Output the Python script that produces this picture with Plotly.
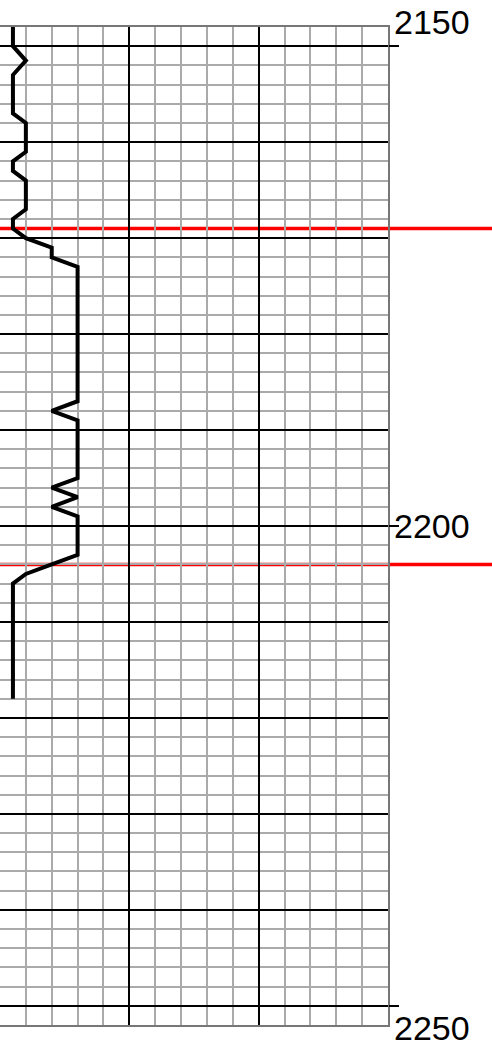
import plotly.graph_objects as go

# Log curve: depth (downward) and curve value (track scale 0-150)
depth = [2148, 2150, 2151.5, 2153, 2157, 2158, 2161, 2162, 2163, 2164, 2167, 2168,
         2169, 2170, 2171, 2172, 2173, 2187, 2188, 2189, 2195, 2196, 2197, 2198,
         2199, 2203, 2204, 2205, 2206, 2218]
value = [5, 5, 10, 5, 5, 10, 10, 5, 5, 10, 10, 5,
         5, 10, 20, 20, 30, 30, 20, 30, 30, 20, 30, 20,
         30, 30, 20, 10, 5, 5]

# Formation tops (red markers)
tops = [2169, 2204]

# Depth tick labels
tick_vals = [2150, 2200, 2250]
tick_text = ["2150", "2200", "2250"]
label_shift = [24, 0, -22]

depth_range = [2252, 2148]
x_range = [0, 150]

fig = go.Figure()
fig.add_trace(go.Scatter(
    x=value, y=depth, mode="lines",
    line=dict(color="black", width=4),
    hoverinfo="skip", showlegend=False,
))

for t in tops:
    fig.add_shape(type="line", xref="paper", yref="y", x0=0, x1=492 / 388,
                  y0=t, y1=t, line=dict(color="#ff0000", width=3.5), layer="between")

for v, txt, s in zip(tick_vals, tick_text, label_shift):
    fig.add_annotation(xref="paper", yref="y", x=1, y=v, text=txt,
                       showarrow=False, xanchor="left", yanchor="middle",
                       xshift=4, yshift=s,
                       font=dict(family="Liberation Sans, Arial", size=34, color="black"))

fig.update_layout(
    width=492, height=1043,
    margin=dict(l=0, r=104, t=27, b=18, autoexpand=False),
    plot_bgcolor="white", paper_bgcolor="white",
    xaxis=dict(range=x_range, dtick=50, tick0=0, showgrid=True, gridcolor="black",
               gridwidth=2, showticklabels=False, ticks="", zeroline=False,
               showline=True, linecolor="#777", linewidth=2, mirror=True,
               automargin=False,
               minor=dict(dtick=10, showgrid=True, gridcolor="#aaaaaa", gridwidth=1.5)),
    yaxis=dict(range=depth_range, side="right", dtick=10, tick0=2150, showgrid=True,
               gridcolor="black", gridwidth=2, showticklabels=False,
               ticks="", zeroline=False, automargin=False,
               showline=True, linecolor="#777", linewidth=2, mirror=True,
               minor=dict(dtick=2, showgrid=True, gridcolor="#aaaaaa", gridwidth=1.5)),
    yaxis2=dict(range=depth_range, overlaying="y", side="right",
                tickvals=tick_vals, ticks="outside", ticklen=10, automargin=False,
                tickwidth=2, tickcolor="black", showticklabels=False,
                showgrid=False, zeroline=False, showline=False),
)

# Tick marks at labelled depths (short outside ticks on the right)
fig.add_trace(go.Scatter(x=[None], y=[None], yaxis="y2", showlegend=False, hoverinfo="skip"))

fig.write_html("out.html", config={"displayModeBar": False},
               post_script="document.body.style.margin='0';document.body.style.padding='0';")
